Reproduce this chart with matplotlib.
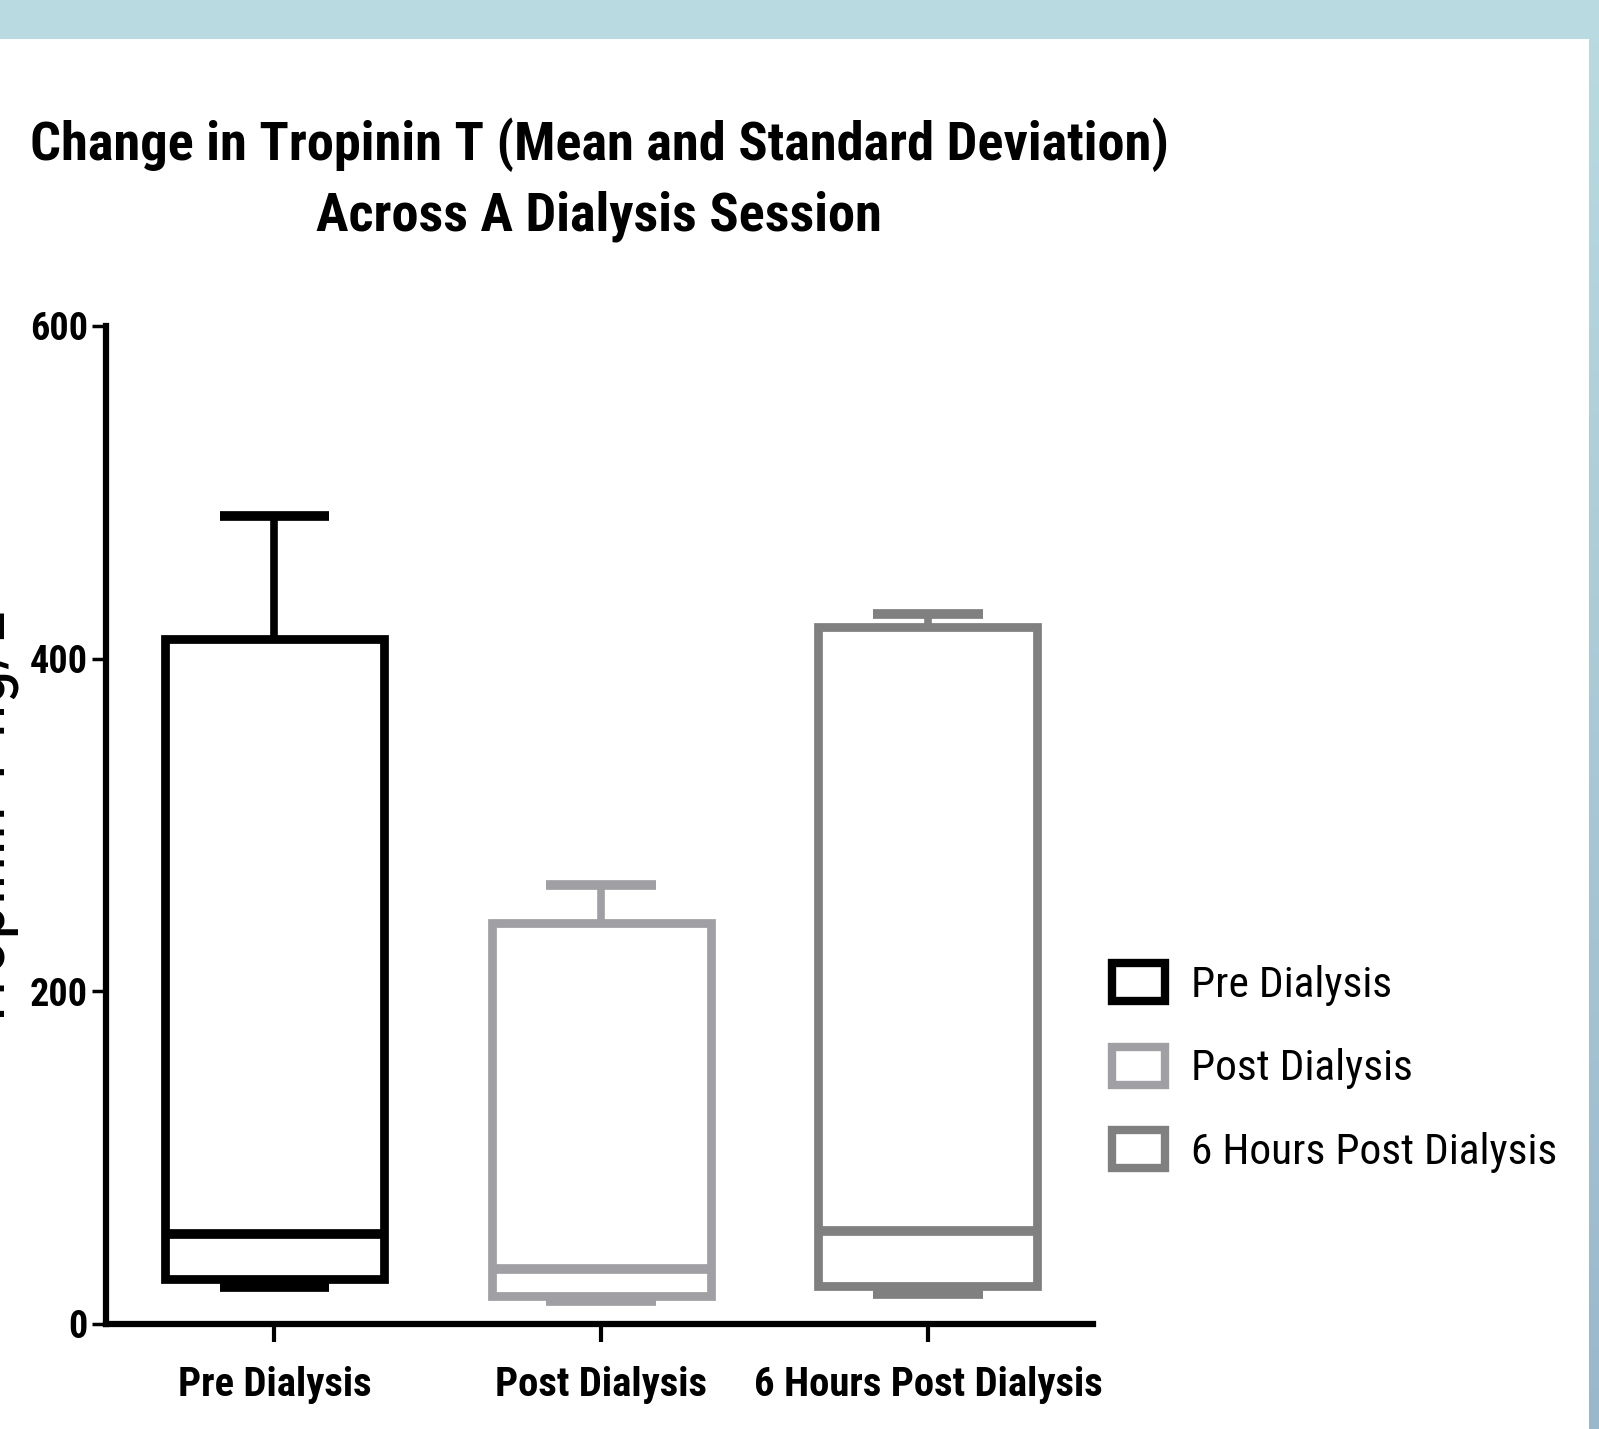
import numpy as np
import matplotlib
matplotlib.use("Agg")
import matplotlib.pyplot as plt
from matplotlib import font_manager
from matplotlib.patches import Patch, Rectangle

# Troponin T summary per time point (ng/L)
categories = ["Pre Dialysis", "Post Dialysis", "6 Hours Post Dialysis"]
whisker_low = [22, 14, 18]
q1 = [27, 17, 23]
median = [54, 33, 56]
q3 = [412, 241, 419]
whisker_high = [486, 264, 427]
colors = ["#000000", "#a0a0a4", "#808080"]
y_ticks = [0, 200, 400, 600]
title_lines = ["Change in Tropinin T (Mean and Standard Deviation)",
               "Across A Dialysis Session"]
y_label = "Tropinin T ng/L"

# Prefer a condensed sans face when one is available
installed = {f.name for f in font_manager.fontManager.ttflist}
candidates = ["Liberation Sans Narrow", "Arial Narrow", "DejaVu Sans Condensed",
              "Roboto Condensed", "Open Sans Condensed", "Noto Sans Condensed",
              "Liberation Sans", "DejaVu Sans"]
FACE = next(n for n in candidates if n in installed)
plt.rcParams["font.family"] = [FACE, "DejaVu Sans"]

W, H = 1599, 1429
DPI = 100
fig = plt.figure(figsize=(W / DPI, H / DPI), dpi=DPI)
fig.patch.set_facecolor("white")
renderer = fig.canvas.get_renderer()


def size_for_width(text, target_px, weight="normal"):
    """Font size (pt) at which `text` spans target_px pixels."""
    t = fig.text(0, 0, text, fontsize=20, fontweight=weight)
    w = t.get_window_extent(renderer).width
    t.remove()
    return 20 * target_px / w


title_fs = size_for_width(title_lines[0], 1137, "bold")
xtick_fs = size_for_width(categories[0], 193, "bold")
ytick_fs = size_for_width("600", 58, "bold")
legend_fs = size_for_width(categories[0], 201)
ylabel_fs = size_for_width(y_label, 420)

# Slide frame: top banner and right-hand gradient strip
fig.patches.append(Rectangle((0, 1 - 39 / H), 1, 39 / H, transform=fig.transFigure,
                             facecolor="#b8dae0", edgecolor="none", zorder=0))
strip = fig.add_axes([1589 / W, 0, 10 / W, 1 - 39 / H])
grad = np.linspace(0, 1, 256)[:, None]
c_top = np.array([0xb8, 0xda, 0xe0]) / 255
c_bot = np.array([0x9a, 0xb8, 0xcc]) / 255
img = c_top[None, None, :] * (1 - grad[..., None]) + c_bot[None, None, :] * grad[..., None]
strip.imshow(img, aspect="auto", extent=[0, 1, 0, 1])
strip.set_axis_off()

ax = fig.add_axes([106 / W, 1 - 1324 / H, (1093 - 106) / W, 998 / H])

stats = []
for i, cat in enumerate(categories):
    stats.append(dict(label=cat, whislo=whisker_low[i], q1=q1[i], med=median[i],
                      q3=q3[i], whishi=whisker_high[i]))

positions = np.arange(len(categories))
bp = ax.bxp(stats, positions=positions, widths=0.67, showfliers=False,
            patch_artist=True, manage_ticks=False)

for i, c in enumerate(colors):
    box = bp["boxes"][i]
    box.set_facecolor("white")
    box.set_edgecolor(c)
    box.set_linewidth(6.3)
    box.set_joinstyle("miter")
    box.set_zorder(2)
    med = bp["medians"][i]
    med.set_color(c)
    med.set_linewidth(7)
    med.set_solid_capstyle("butt")
    med.set_zorder(2.5)
    for w in bp["whiskers"][2 * i:2 * i + 2]:
        w.set_color(c)
        w.set_linewidth(5.5)
        w.set_solid_capstyle("butt")
        w.set_zorder(1.5)
    for cap in bp["caps"][2 * i:2 * i + 2]:
        cap.set_color(c)
        cap.set_linewidth(7)
        cap.set_solid_capstyle("butt")
        cap.set_zorder(1.5)

ax.set_xlim(-0.515, 2.505)
ax.set_ylim(0, 600)
ax.set_yticks(y_ticks)
ax.set_xticks(positions)
ax.set_xticklabels(categories, fontsize=xtick_fs, fontweight="bold")
ax.set_yticklabels([str(v) for v in y_ticks], fontsize=ytick_fs, fontweight="bold")
ax.tick_params(axis="y", length=10, width=2.5, pad=3, direction="out")
ax.tick_params(axis="x", length=13, width=3, pad=17, direction="out")

for s in ["top", "right"]:
    ax.spines[s].set_visible(False)
for s in ["left", "bottom"]:
    ax.spines[s].set_linewidth(4.5)
    ax.spines[s].set_capstyle("projecting")

ax.set_ylabel(y_label, fontsize=ylabel_fs)
ax.yaxis.set_label_coords(-0.087, 0.504)

fig.text(599 / W, 1 - 180 / H, "\n".join(title_lines),
         ha="center", va="center", multialignment="center",
         fontsize=title_fs, fontweight="bold", linespacing=1.45)

leg_px = legend_fs * DPI / 72
handles = [Patch(facecolor="white", edgecolor=c, linewidth=6, joinstyle="miter")
           for c in colors]
fig.legend(handles, categories, loc="center left",
           bbox_to_anchor=(1112 / W, 1 - 1068 / H), frameon=False,
           fontsize=legend_fs, borderaxespad=0, borderpad=0,
           handlelength=53 / leg_px, handleheight=42 / leg_px,
           handletextpad=26 / leg_px, labelspacing=(92.5 - 1.2 * leg_px) / leg_px)

fig.savefig("out.png", dpi=DPI, facecolor="white")
